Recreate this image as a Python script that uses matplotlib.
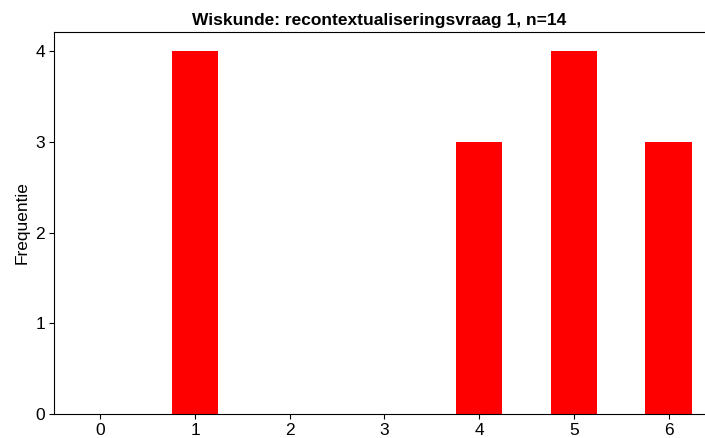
import matplotlib
matplotlib.use("Agg")
import matplotlib.pyplot as plt

categories = [0, 1, 2, 3, 4, 5, 6]
frequencies = [0, 4, 0, 0, 3, 4, 3]
title = "Wiskunde: recontextualiseringsvraag 1, n=14"
ylabel = "Frequentie"

plt.rcParams['font.family'] = ['Liberation Sans', 'DejaVu Sans']

fig = plt.figure(figsize=(7.05, 4.38), dpi=100)
ax = fig.add_axes([54/705, (438-414)/438, 651/705, 382/438])
ax.bar(categories, frequencies, width=0.49, color='#ff0000')
ax.set_xlim(-0.49, 6.385)
ax.set_ylim(0, 4.21)
ax.set_xticks(categories)
ax.set_yticks([0, 1, 2, 3, 4])
ax.spines['right'].set_visible(False)
ax.tick_params(labelsize=12.5, pad=3)
ax.set_ylabel(ylabel, fontsize=12.5)
ax.set_title(title, fontsize=12.5, fontweight='bold', pad=5)
fig.savefig("out.png", dpi=100)
